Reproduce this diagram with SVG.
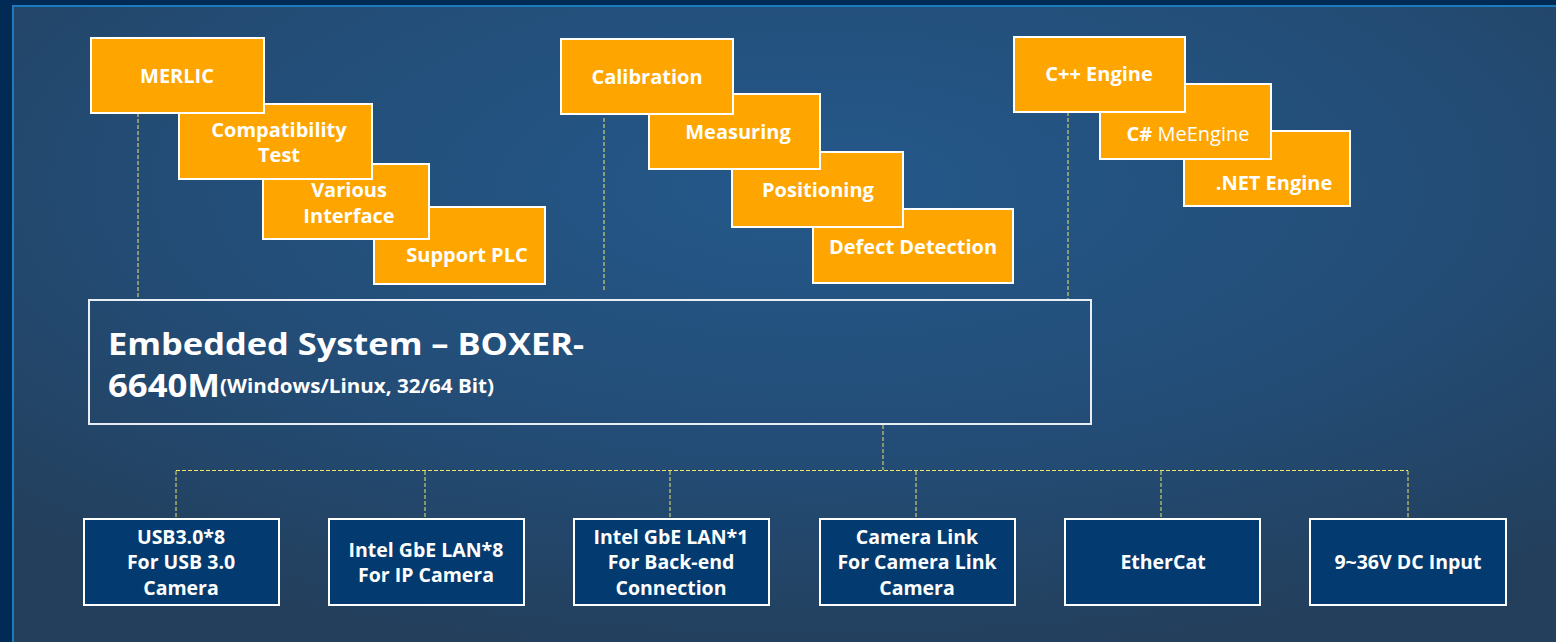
<svg xmlns="http://www.w3.org/2000/svg" width="1556" height="642" viewBox="0 0 1556 642">
<defs>
<radialGradient id="bg" cx="52%" cy="28%" r="75%" fx="52%" fy="28%">
<stop offset="0" stop-color="#24588a"/>
<stop offset="0.55" stop-color="#234d77"/>
<stop offset="1" stop-color="#233f5c"/>
</radialGradient>
</defs>
<style>
.frame{fill:#012a54}
.edge{fill:#1c7bbd}
.ob{fill:#ffa500;stroke:#ffffff;stroke-width:2}
.bb{fill:#033b70;stroke:#ffffff;stroke-width:2}
.mb{fill:none;stroke:#e9eef4;stroke-width:2}
.ot{font-family:"Open Sans","Liberation Sans",sans-serif;font-weight:700;font-size:20px;fill:#ffffff;text-anchor:middle}
.bt{font-family:"Open Sans","Liberation Sans",sans-serif;font-weight:700;font-size:19.5px;fill:#ffffff;text-anchor:middle}
.mt{font-family:"Open Sans","Liberation Sans",sans-serif;font-weight:700;fill:#ffffff}
.dash{fill:none;stroke:#ece46c;stroke-width:1;stroke-dasharray:4 2}
</style>
<rect x="0" y="0" width="1556" height="642" class="frame"/>
<rect x="12" y="5" width="1544" height="637" class="edge"/>
<rect x="14" y="7" width="1542" height="635" fill="url(#bg)"/>

<g id="connectors">
<line class="dash" x1="138" y1="113" x2="138" y2="299"/>
<line class="dash" x1="604" y1="118" x2="604" y2="292"/>
<line class="dash" x1="1068" y1="112" x2="1068" y2="299"/>
<line class="dash" x1="883" y1="425" x2="883" y2="470"/>
<line class="dash" x1="176" y1="470.5" x2="1408" y2="470.5"/>
<line class="dash" x1="176" y1="471" x2="176" y2="519"/>
<line class="dash" x1="425" y1="471" x2="425" y2="519"/>
<line class="dash" x1="670" y1="471" x2="670" y2="519"/>
<line class="dash" x1="916" y1="471" x2="916" y2="519"/>
<line class="dash" x1="1161" y1="471" x2="1161" y2="519"/>
<line class="dash" x1="1408" y1="471" x2="1408" y2="519"/>
</g>

<g id="support-plc"><rect class="ob" x="374" y="207" width="171" height="77"/><text class="ot" x="467" y="262">Support PLC</text></g>
<g id="various-interface"><rect class="ob" x="263" y="164" width="166" height="75"/><text class="ot" x="349" y="197">Various</text><text class="ot" x="349" y="223">Interface</text></g>
<g id="compatibility-test"><rect class="ob" x="179" y="104" width="193" height="75"/><text class="ot" x="279" y="137">Compatibility</text><text class="ot" x="279" y="162">Test</text></g>
<g id="merlic"><rect class="ob" x="91" y="38" width="173" height="75"/><text class="ot" x="177" y="83">MERLIC</text></g>

<g id="defect-detection"><rect class="ob" x="813" y="209" width="200" height="74"/><text class="ot" x="913" y="254">Defect Detection</text></g>
<g id="positioning"><rect class="ob" x="732" y="152" width="171" height="75"/><text class="ot" x="818" y="197">Positioning</text></g>
<g id="measuring"><rect class="ob" x="649" y="94" width="171" height="75"/><text class="ot" x="738" y="139">Measuring</text></g>
<g id="calibration"><rect class="ob" x="561" y="39" width="172" height="75"/><text class="ot" x="647" y="84">Calibration</text></g>

<g id="net-engine"><rect class="ob" x="1184" y="131" width="166" height="75"/><text class="ot" x="1274" y="190">.NET Engine</text></g>
<g id="cs-meengine"><rect class="ob" x="1100" y="84" width="171" height="75"/><text class="ot" x="1188" y="141">C#<tspan font-weight="400"> MeEngine</tspan></text></g>
<g id="cpp-engine"><rect class="ob" x="1014" y="37" width="171" height="75"/><text class="ot" x="1099" y="81">C++ Engine</text></g>

<g id="embedded-system">
<rect class="mb" x="89" y="300" width="1002" height="124"/>
<text class="mt" x="108" y="355" font-size="31" textLength="476" lengthAdjust="spacingAndGlyphs">Embedded System – BOXER-</text>
<text class="mt" x="108" y="397" font-size="33" textLength="112" lengthAdjust="spacingAndGlyphs">6640M</text>
<text class="mt" x="220" y="393" font-size="20" textLength="274" lengthAdjust="spacingAndGlyphs">(Windows/Linux, 32/64 Bit)</text>
</g>

<g id="usb"><rect class="bb" x="84" y="519" width="195" height="86"/><text class="bt" x="181" y="544">USB3.0*8</text><text class="bt" x="181" y="569">For USB 3.0</text><text class="bt" x="181" y="595">Camera</text></g>
<g id="lan8"><rect class="bb" x="329" y="519" width="195" height="86"/><text class="bt" x="426" y="557">Intel GbE LAN*8</text><text class="bt" x="426" y="582">For IP Camera</text></g>
<g id="lan1"><rect class="bb" x="574" y="519" width="195" height="86"/><text class="bt" x="671" y="544">Intel GbE LAN*1</text><text class="bt" x="671" y="569">For Back-end</text><text class="bt" x="671" y="595">Connection</text></g>
<g id="camera-link"><rect class="bb" x="820" y="519" width="195" height="86"/><text class="bt" x="917" y="544">Camera Link</text><text class="bt" x="917" y="569">For Camera Link</text><text class="bt" x="917" y="595">Camera</text></g>
<g id="ethercat"><rect class="bb" x="1065" y="519" width="195" height="86"/><text class="bt" x="1163" y="569">EtherCat</text></g>
<g id="dc-input"><rect class="bb" x="1310" y="519" width="196" height="86"/><text class="bt" x="1408" y="569">9~36V DC Input</text></g>
</svg>
